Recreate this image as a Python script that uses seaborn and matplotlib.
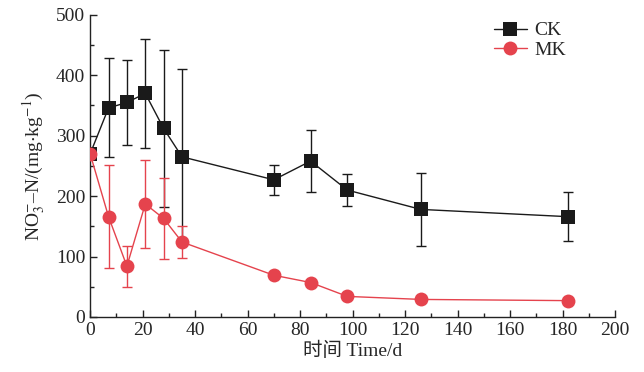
import numpy as np
import matplotlib
matplotlib.use("Agg")
import matplotlib.pyplot as plt
from matplotlib.ticker import MultipleLocator
import seaborn as sns
import pandas as pd

days = [0, 7, 14, 21, 28, 35, 70, 84, 98, 126, 182]
ck_mean = [270, 346, 355, 370, 312, 265, 227, 258, 210, 178, 166]
ck_err = [0, 82, 70, 90, 130, 145, 25, 52, 26, 61, 40]
mk_mean = [270, 166, 84, 187, 163, 124, 69, 57, 34, 29, 27]
mk_err = [0, 85, 34, 73, 67, 27, 0, 0, 0, 0, 0]

ck_color = '#1a1a1a'
mk_color = '#e5434d'

sns.set_style('ticks')
plt.rcParams['font.family'] = ['Liberation Serif', 'Noto Sans CJK SC']
plt.rcParams['mathtext.fontset'] = 'stix'

df = pd.DataFrame({
    'day': days + days,
    'value': ck_mean + mk_mean,
    'group': ['CK'] * len(days) + ['MK'] * len(days),
})

fig = plt.figure(figsize=(6.44, 3.72), dpi=100)
ax = fig.add_axes([0.14, 0.148, 0.815, 0.812])

ax.errorbar(days, ck_mean, yerr=ck_err, fmt='none', ecolor=ck_color,
            elinewidth=1.0, capsize=3.5, capthick=1.0, zorder=2)
ax.errorbar(days, mk_mean, yerr=mk_err, fmt='none', ecolor=mk_color,
            elinewidth=1.0, capsize=3.5, capthick=1.0, zorder=2)

sns.lineplot(data=df, x='day', y='value', hue='group', style='group',
             palette={'CK': ck_color, 'MK': mk_color},
             markers={'CK': 's', 'MK': 'o'}, dashes=False,
             markersize=10, markeredgewidth=0, linewidth=1.0, ax=ax, zorder=3)

ax.set_xlim(0, 200)
ax.set_ylim(0, 500)
ax.xaxis.set_major_locator(MultipleLocator(20))
ax.xaxis.set_minor_locator(MultipleLocator(10))
ax.yaxis.set_major_locator(MultipleLocator(100))
ax.yaxis.set_minor_locator(MultipleLocator(50))
ax.tick_params(which='both', direction='in', labelsize=14, width=1.0, color='#222222')
ax.tick_params(which='major', length=5)
ax.tick_params(which='minor', length=3)
for s in ['left', 'bottom']:
    ax.spines[s].set_linewidth(1.0)
    ax.spines[s].set_color('#222222')
sns.despine(ax=ax)

ax.set_xlabel('时间 Time/d', fontsize=14, labelpad=2)
ax.set_ylabel(r'NO$_3^{-}$–N/(mg$\cdot$kg$^{-1}$)', fontsize=14, labelpad=6)

leg = ax.legend(title=None, loc='upper right', bbox_to_anchor=(0.94, 1.035),
                frameon=False, fontsize=14, handlelength=1.7,
                handletextpad=0.4, labelspacing=0.1)

fig.savefig('out.png', dpi=100)
